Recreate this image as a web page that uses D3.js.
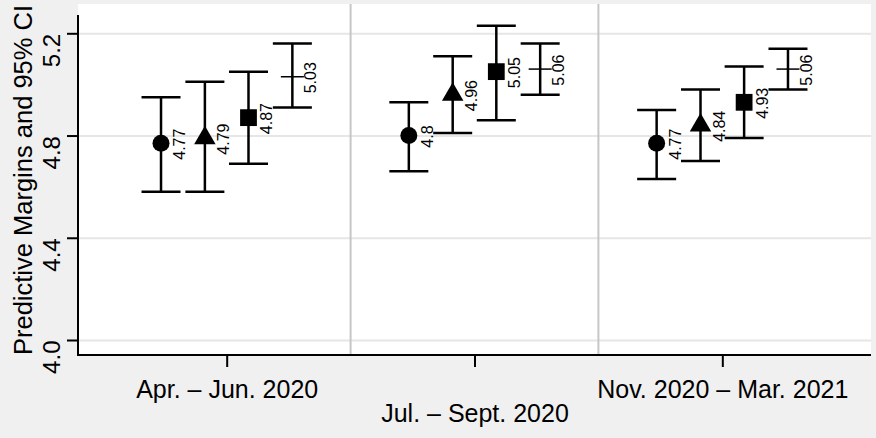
<!DOCTYPE html>
<html>
<head>
<meta charset="utf-8">
<script src="https://cdn.jsdelivr.net/npm/d3@7"></script>
<style>
  body { margin: 0; background: #f0f0f0; }
  svg { display: block; font-family: "Liberation Sans", Arial, Helvetica, sans-serif; }
</style>
</head>
<body>
<svg id="chart"></svg>
<script>
// Periods on the x axis and y tick values
const periods = ['Apr. – Jun. 2020', 'Jul. – Sept. 2020', 'Nov. 2020 – Mar. 2021'];
const yTicks = [4.0, 4.4, 4.8, 5.2];

// Predictive margins with 95% CI, one set of arrays per series
const circleMean = [4.77, 4.8, 4.77];
const circleLow = [4.58, 4.66, 4.63];
const circleHigh = [4.95, 4.93, 4.90];

const triangleMean = [4.79, 4.96, 4.84];
const triangleLow = [4.58, 4.81, 4.70];
const triangleHigh = [5.01, 5.11, 4.98];

const squareMean = [4.87, 5.05, 4.93];
const squareLow = [4.69, 4.86, 4.79];
const squareHigh = [5.05, 5.23, 5.07];

const plusMean = [5.03, 5.06, 5.06];
const plusLow = [4.91, 4.96, 4.98];
const plusHigh = [5.16, 5.16, 5.14];

const series = [
  { symbol: 'circle', mean: circleMean, low: circleLow, high: circleHigh },
  { symbol: 'triangle', mean: triangleMean, low: triangleLow, high: triangleHigh },
  { symbol: 'square', mean: squareMean, low: squareLow, high: squareHigh },
  { symbol: 'plus', mean: plusMean, low: plusLow, high: plusHigh }
];

// Set up dimensions
const width = 876;
const height = 438;
const plot = { left: 78, right: 871, top: 4, bottom: 355 };
const offsets = [-0.265, -0.088, 0.088, 0.265];
const capHalf = 19.5;

const svg = d3.select('#chart')
  .attr('width', width)
  .attr('height', height);

svg.append('rect')
  .attr('width', width)
  .attr('height', height)
  .attr('fill', '#f0f0f0');

// Scales
const x = d3.scaleLinear()
  .domain([0.4, 3.6])
  .range([plot.left, plot.right]);

const y = d3.scaleLinear()
  .domain([4.0, 5.2])
  .range([340, 33.3]);

// Plot region
svg.append('rect')
  .attr('x', plot.left)
  .attr('y', plot.top)
  .attr('width', plot.right - plot.left)
  .attr('height', plot.bottom - plot.top)
  .attr('fill', '#ffffff');

// Horizontal grid lines
const grid = svg.append('g')
  .attr('transform', `translate(${plot.left},0)`)
  .call(d3.axisLeft(y)
    .tickValues(yTicks)
    .tickSize(-(plot.right - plot.left))
    .tickFormat(() => '')
  );
grid.select('.domain').remove();
grid.selectAll('line')
  .attr('stroke', '#e6e6e6')
  .attr('stroke-width', 2);

// Vertical separators between periods
svg.append('g')
  .selectAll('line')
  .data(periods.slice(1))
  .enter()
  .append('line')
  .attr('x1', (d, i) => x(i + 1.5))
  .attr('x2', (d, i) => x(i + 1.5))
  .attr('y1', plot.top)
  .attr('y2', plot.bottom)
  .attr('stroke', '#c6c6c6')
  .attr('stroke-width', 2);

// Y axis
const yAxis = svg.append('g')
  .attr('transform', `translate(${plot.left},0)`)
  .call(d3.axisLeft(y)
    .tickValues(yTicks)
    .tickSize(11)
    .tickFormat(d3.format('.1f'))
  );
yAxis.select('.domain').remove();
yAxis.selectAll('.tick line')
  .attr('stroke', '#000')
  .attr('stroke-width', 2);
yAxis.selectAll('.tick text')
  .attr('x', 0)
  .attr('y', 0)
  .attr('dy', null)
  .attr('transform', 'translate(-18,0) rotate(-90)')
  .attr('text-anchor', 'end')
  .attr('fill', '#000')
  .style('font-size', '24px');

svg.append('line')
  .attr('x1', plot.left)
  .attr('x2', plot.left)
  .attr('y1', 15)
  .attr('y2', plot.bottom + 1)
  .attr('stroke', '#000')
  .attr('stroke-width', 2);

// X axis
const xAxis = svg.append('g')
  .attr('transform', `translate(0,${plot.bottom})`)
  .call(d3.axisBottom(x)
    .tickValues([1, 2, 3])
    .tickSize(12)
    .tickFormat((d, i) => periods[i])
  );
xAxis.select('.domain').remove();
xAxis.selectAll('.tick line')
  .attr('stroke', '#000')
  .attr('stroke-width', 2);
xAxis.selectAll('.tick text')
  .attr('dy', null)
  .attr('y', (d, i) => i === 1 ? 66.7 : 43.3)
  .attr('fill', '#000')
  .style('font-size', '25px');

svg.append('line')
  .attr('x1', plot.left - 1)
  .attr('x2', plot.right)
  .attr('y1', plot.bottom)
  .attr('y2', plot.bottom)
  .attr('stroke', '#000')
  .attr('stroke-width', 2);

// Y axis title
svg.append('text')
  .attr('transform', 'translate(32,180) rotate(-90)')
  .attr('text-anchor', 'middle')
  .attr('fill', '#000')
  .style('font-size', '25.5px')
  .text('Predictive Margins and 95% CI');

// Error bars, markers and value labels
const symbols = {
  circle: d3.symbol().type(d3.symbolCircle).size(227),
  triangle: d3.symbol().type(d3.symbolTriangle).size(200),
  square: d3.symbol().type(d3.symbolSquare).size(282)
};

series.forEach((s, si) => {
  const pts = s.mean.map((m, i) => ({
    cx: x(i + 1 + offsets[si]),
    mean: m,
    low: s.low[i],
    high: s.high[i]
  }));

  const g = svg.append('g')
    .attr('stroke', '#000')
    .attr('stroke-width', 2.5);

  g.selectAll('.bar')
    .data(pts)
    .enter()
    .append('line')
    .attr('x1', d => d.cx)
    .attr('x2', d => d.cx)
    .attr('y1', d => y(d.low))
    .attr('y2', d => y(d.high));

  ['low', 'high'].forEach(k => {
    g.selectAll('.cap-' + k)
      .data(pts)
      .enter()
      .append('line')
      .attr('x1', d => d.cx - capHalf)
      .attr('x2', d => d.cx + capHalf)
      .attr('y1', d => y(d[k]))
      .attr('y2', d => y(d[k]));
  });

  if (s.symbol === 'plus') {
    g.selectAll('.plus')
      .data(pts)
      .enter()
      .append('line')
      .attr('x1', d => d.cx - 11.5)
      .attr('x2', d => d.cx + 11.5)
      .attr('y1', d => y(d.mean))
      .attr('y2', d => y(d.mean))
      .attr('stroke-width', 1.5);
  } else {
    g.selectAll('.marker')
      .data(pts)
      .enter()
      .append('path')
      .attr('d', symbols[s.symbol])
      .attr('transform', d => `translate(${d.cx},${y(d.mean)})`)
      .attr('fill', '#000')
      .attr('stroke', 'none');
  }

  svg.append('g')
    .selectAll('text')
    .data(pts)
    .enter()
    .append('text')
    .attr('transform', d => `translate(${d.cx + 24},${y(d.mean) + 1}) rotate(-90)`)
    .attr('text-anchor', 'middle')
    .attr('fill', '#000')
    .style('font-size', '16px')
    .text(d => String(d.mean));
});
</script>
</body>
</html>
